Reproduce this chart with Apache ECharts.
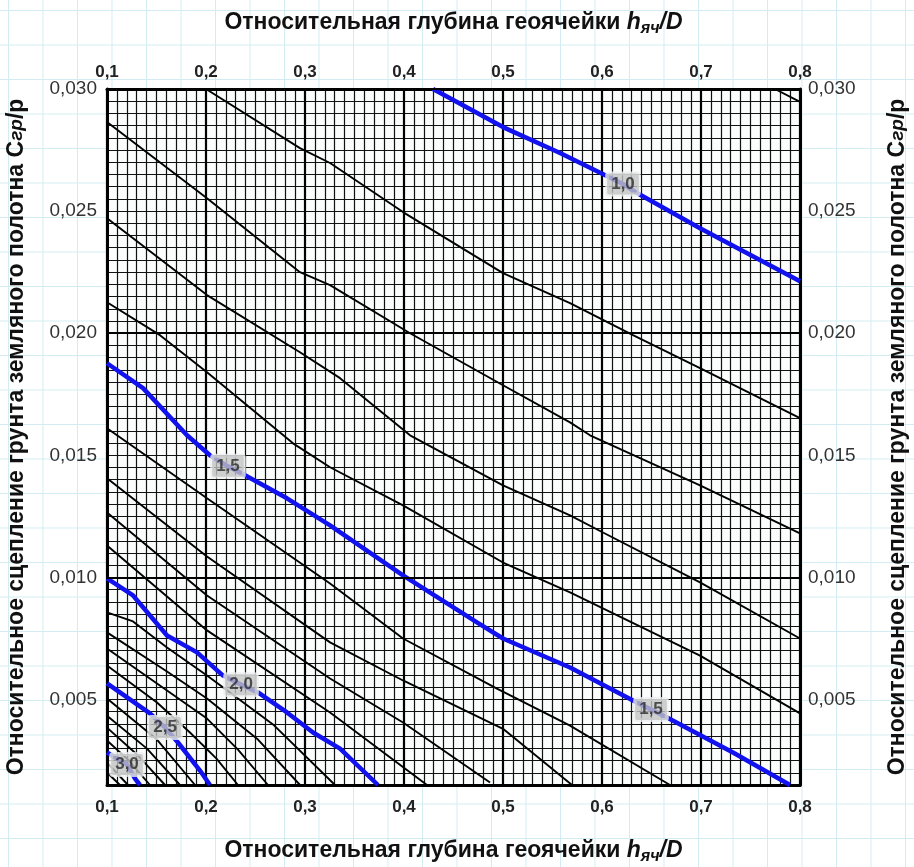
<!DOCTYPE html>
<html><head><meta charset="utf-8">
<script src="https://cdn.jsdelivr.net/npm/echarts@6/dist/echarts.min.js"></script>
<style>
html,body{margin:0;padding:0;background:#fff;}
#c{width:914px;height:867px;background-color:#fff;
background-image:linear-gradient(to right,#d3ecf1 1px,transparent 1px),linear-gradient(to bottom,#d3ecf1 1px,transparent 1px);
background-size:34.5px 34.5px;background-position:8px 10px;}
</style></head><body><div id="c"></div>
<script>
// axis ranges / ticks
const xTicks = [0.1, 0.2, 0.3, 0.4, 0.5, 0.6, 0.7, 0.8];
const yTicks = [0.005, 0.010, 0.015, 0.020, 0.025, 0.030];
const yMin = 0.0015, yMax = 0.030;

// contour lines (x = h/D, y = C/p)
const c09 = [[0.7747,0.0300],[0.8,0.02947]];
const c10 = [[0.4293,0.0300],[0.5,0.02844],[0.5576,0.02738],[0.6212,0.02611],[0.6354,0.02574],[0.699,0.0243],[0.8,0.02213]];
const c11 = [[0.2,0.0300],[0.2949,0.02758],[0.3253,0.02697],[0.399,0.02496],[0.5,0.02246],[0.5677,0.02123],[0.6313,0.01992],[0.699,0.01857],[0.8,0.01652]];
const c12 = [[0.1,0.02865],[0.201,0.02553],[0.2949,0.0225],[0.3253,0.02197],[0.4061,0.02],[0.5,0.01787],[0.5677,0.01635],[0.5879,0.01582],[0.699,0.01377],[0.8,0.0118]];
const c13 = [[0.1,0.02471],[0.201,0.02156],[0.2949,0.01922],[0.3354,0.01816],[0.4061,0.01582],[0.5,0.01377],[0.5677,0.01254],[0.601,0.01184],[0.699,0.0098],[0.8,0.0075]];
const c14 = [[0.1,0.02127],[0.1535,0.01992],[0.201,0.0184],[0.2879,0.01549],[0.3253,0.01451],[0.399,0.01295],[0.5,0.01061],[0.5677,0.00939],[0.699,0.0068],[0.8,0.00443]];
const c15 = [[0.1,0.01877],[0.1364,0.01775],[0.1808,0.01582],[0.204,0.015],[0.2222,0.01455],[0.2394,0.01418],[0.2818,0.01324],[0.3253,0.01213],[0.399,0.01008],[0.4737,0.00816],[0.5,0.0075],[0.5677,0.00631],[0.6313,0.00496],[0.6495,0.00459],[0.6657,0.00426],[0.7323,0.00283],[0.7899,0.0015]];
const c16 = [[0.1,0.01611],[0.201,0.01324],[0.3253,0.00975],[0.399,0.0075],[0.4939,0.00545],[0.5677,0.00393],[0.6687,0.0015]];
const c17 = [[0.1,0.01406],[0.201,0.01086],[0.3253,0.00734],[0.399,0.00578],[0.5,0.0038],[0.5697,0.0015]];
const c18 = [[0.1,0.01266],[0.201,0.00926],[0.3253,0.00586],[0.399,0.00406],[0.4869,0.0016]];
const c19 = [[0.1,0.01131],[0.201,0.00783],[0.3253,0.00447],[0.4232,0.0015]];
const c20 = [[0.1,0.00996],[0.1263,0.00926],[0.1606,0.00762],[0.1909,0.00693],[0.2172,0.00598],[0.2354,0.00561],[0.2525,0.00529],[0.2818,0.00447],[0.3081,0.00365],[0.3354,0.00299],[0.3737,0.0015]];
const c21 = [[0.1,0.00857],[0.1263,0.0082],[0.1606,0.00713],[0.201,0.00598],[0.2677,0.00398],[0.3303,0.0015]];
const c22 = [[0.1,0.00775],[0.1606,0.00615],[0.201,0.00504],[0.2525,0.00336],[0.295,0.0015]];
const c23 = [[0.1,0.00709],[0.1606,0.00537],[0.201,0.00422],[0.2323,0.00295],[0.2626,0.0015]];
const c24 = [[0.1,0.00639],[0.1505,0.00488],[0.1838,0.00365],[0.2106,0.00258],[0.2323,0.0015]];
const c25 = [[0.1,0.00566],[0.1434,0.00443],[0.1586,0.00385],[0.1717,0.00324],[0.1939,0.00209],[0.204,0.0015]];
const c26 = [[0.1,0.00504],[0.1505,0.00336],[0.1889,0.0015]];
const c27 = [[0.1,0.00434],[0.1404,0.00299],[0.1737,0.0015]];
const c28 = [[0.1,0.00385],[0.1303,0.00275],[0.1586,0.0015]];
const c29 = [[0.1,0.00332],[0.1212,0.00254],[0.1434,0.0015]];
const c30 = [[0.1,0.00283],[0.1202,0.00234],[0.1283,0.00176],[0.1333,0.0015]];
const c31 = [[0.1,0.00242],[0.1212,0.0015]];
const c32 = [[0.1,0.00201],[0.1131,0.0015]];

const blackLines = [c09,c11,c12,c13,c14,c16,c17,c18,c19,c21,c22,c23,c24,c26,c27,c28,c29,c31,c32];
const blueLines = [c10,c15,c20,c25,c30];

// contour value labels: [x, y, text]
const levelLabels = [[0.6212,0.02611,'1,0'],[0.2222,0.01455,'1,5'],[0.6495,0.00459,'1,5'],[0.2354,0.00561,'2,0'],[0.1586,0.00385,'2,5'],[0.1202,0.00234,'3,0']];

const FONT = '"Liberation Sans", Arial, sans-serif';
const fmtX = v => String(Math.round(v*10)/10).replace('.', ',');
const fmtY = v => {
  const isMajor = yTicks.some(t => Math.abs(t - v) < 1e-7);
  return isMajor ? v.toFixed(3).replace('.', ',') : '';
};
const xName = '{b|Относительная глубина геоячейки }{i|h}{s|яч}{i|/D}';
const yName = '{b|Относительное сцепление грунта земляного полотна C}{g|гр}{b|/p}';
const nameRich = {
  b:{fontFamily:FONT,fontSize:23,fontWeight:'bold',color:'#111',lineHeight:28},
  i:{fontFamily:FONT,fontSize:23,fontWeight:'bold',fontStyle:'italic',color:'#111',lineHeight:28},
  s:{fontFamily:FONT,fontSize:16,fontWeight:'bold',fontStyle:'italic',color:'#111',lineHeight:16,padding:[12,0,0,0]},
  g:{fontFamily:FONT,fontSize:19,fontStyle:'italic',fontWeight:'bold',color:'#111',lineHeight:28}
};
const borderLine = {show:true,onZero:false,lineStyle:{color:'#000',width:3}};

const series = [];
series.push({
  type:'line', data:[[0.1,yMin]], showSymbol:false, silent:true, z:1,
  lineStyle:{width:0},
  markLine:{silent:true,symbol:'none',label:{show:false},
    lineStyle:{color:'#000',width:2.2,type:'solid'},
    data:yTicks.filter(t=>t<yMax).map(t=>({yAxis:t}))}
});
blackLines.forEach(d => series.push({type:'line',data:d,showSymbol:false,silent:true,z:3,
  lineStyle:{color:'#000',width:1.9},smooth:false}));
blueLines.forEach(d => series.push({type:'line',data:d,showSymbol:false,silent:true,z:4,
  lineStyle:{color:'#1212ee',width:4.5},smooth:false}));
series.push({type:'scatter',data:levelLabels,symbolSize:1,itemStyle:{color:'transparent'},z:6,silent:true,
  label:{show:true,position:'inside',formatter:p=>p.data[2],fontFamily:FONT,fontSize:17,fontWeight:'bold',
    color:'#2a2a2a',backgroundColor:'#c3c3c3',padding:[3,4,1,4],borderRadius:2,borderColor:'#eceff0',borderWidth:2}});

const chart = echarts.init(document.getElementById('c'), null, {renderer:'canvas'});
chart.setOption({
  backgroundColor:'transparent',
  animation:false,
  grid:{left:107,top:89,width:693,height:696,show:true,backgroundColor:'#fbfcfc',borderWidth:0,
        containLabel:false,outerBoundsMode:'none'},
  xAxis:[
    {type:'value',position:'bottom',min:0.1,max:0.8,interval:0.1,
     axisLine:borderLine,axisTick:{show:false},
     axisLabel:{formatter:fmtX,fontFamily:FONT,fontSize:17,fontWeight:'bold',color:'#222',margin:14},
     splitLine:{show:true,lineStyle:{color:'#000',width:2.2}},
     minorTick:{show:false,splitNumber:10},
     minorSplitLine:{show:true,lineStyle:{color:'#111',width:1.2}},
     name:xName,nameLocation:'middle',nameGap:52,nameTextStyle:{rich:nameRich}},
    {type:'value',position:'top',min:0.1,max:0.8,interval:0.1,
     axisLine:borderLine,axisTick:{show:false},
     axisLabel:{formatter:fmtX,fontFamily:FONT,fontSize:17,fontWeight:'bold',color:'#222',margin:8},
     splitLine:{show:false},
     name:xName,nameLocation:'middle',nameGap:52,nameTextStyle:{rich:nameRich}}
  ],
  yAxis:[
    {type:'value',position:'left',min:yMin,max:yMax,interval:0.0005,
     axisLine:borderLine,axisTick:{show:false},
     axisLabel:{formatter:fmtY,fontFamily:FONT,fontSize:19,color:'#333',margin:10},
     splitLine:{show:true,lineStyle:{color:'#111',width:1.2}},
     name:yName,nameLocation:'middle',nameRotate:90,nameGap:76,nameTextStyle:{rich:nameRich}},
    {type:'value',position:'right',min:yMin,max:yMax,interval:0.0005,
     axisLine:borderLine,axisTick:{show:false},
     axisLabel:{formatter:fmtY,fontFamily:FONT,fontSize:19,color:'#333',margin:8},
     splitLine:{show:false},
     name:yName,nameLocation:'middle',nameRotate:90,nameGap:84,nameTextStyle:{rich:nameRich}}
  ],
  series:series
});
</script></body></html>
